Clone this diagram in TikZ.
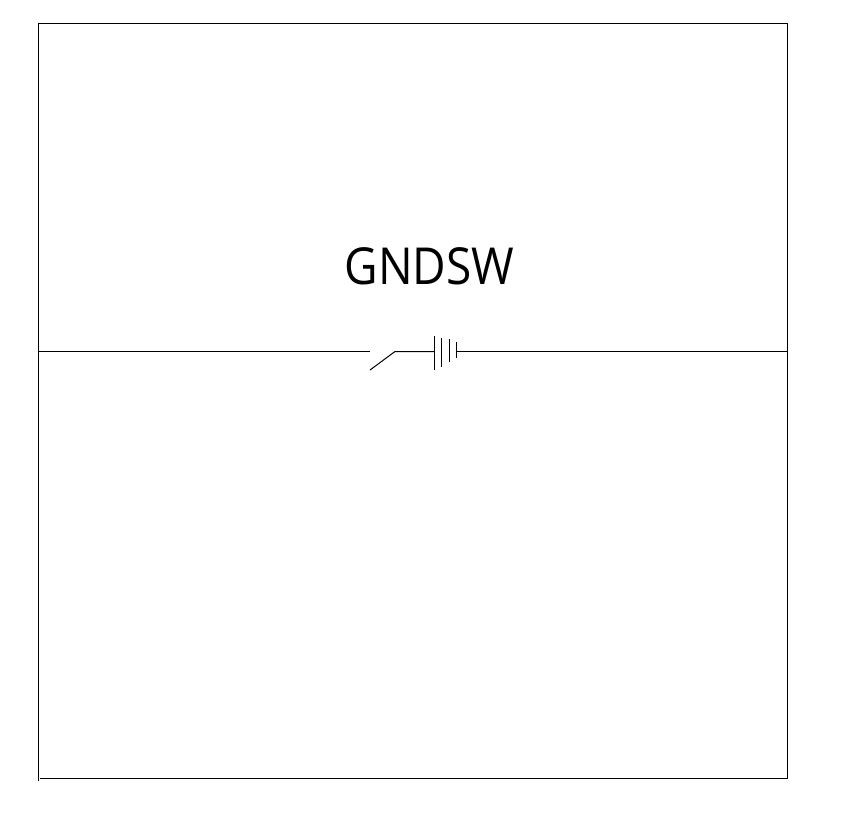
\documentclass[tikz,border=0pt]{standalone}
\usepackage{fontspec}
\setmainfont{Open Sans}
\usepackage{xcolor}
\usetikzlibrary{positioning}

\begin{document}
\begin{tikzpicture}[
  x=1pt, y=-1pt,
  wire/.style={draw, line width=1pt},
  lbl/.style={font=\fontsize{51}{60}\selectfont, inner sep=0pt, anchor=base, xscale=0.903}
]
\useasboundingbox (0,0) rectangle (859,812);

% frame
\coordinate (tl) at (38.5,23.5);
\coordinate (tr) at (787.5,23.5);
\coordinate (br) at (787.5,778.5);
\coordinate (bl) at (40,778.5);
\coordinate (lstub) at (38.5,781);
\draw[wire] (lstub) -- (tl) -- (tr) -- (br) -- (bl);

% main line
\coordinate (wl) at (38.5,351.5);
\coordinate (swa) at (370,351.5);
\coordinate (swb) at (395,351.5);
\coordinate (swc) at (370,370);
\coordinate (p1) at (434.5,351.5);
\coordinate (p4) at (456.5,351.5);
\coordinate (wr) at (787.5,351.5);
\draw[wire] (wl) -- (swa);
\draw[wire] (swc) -- (swb) -- (p1);
\draw[wire] (p4) -- (wr);

% battery plates
\draw[wire] (434.5,336) -- (434.5,370);
\draw[wire] (441.5,338) -- (441.5,367);
\draw[wire] (449.5,339) -- (449.5,362);
\draw[wire] (456.5,342) -- (456.5,358);

\node[lbl] (title) at (429.5,284.5) {GNDSW};
\end{tikzpicture}
\end{document}
